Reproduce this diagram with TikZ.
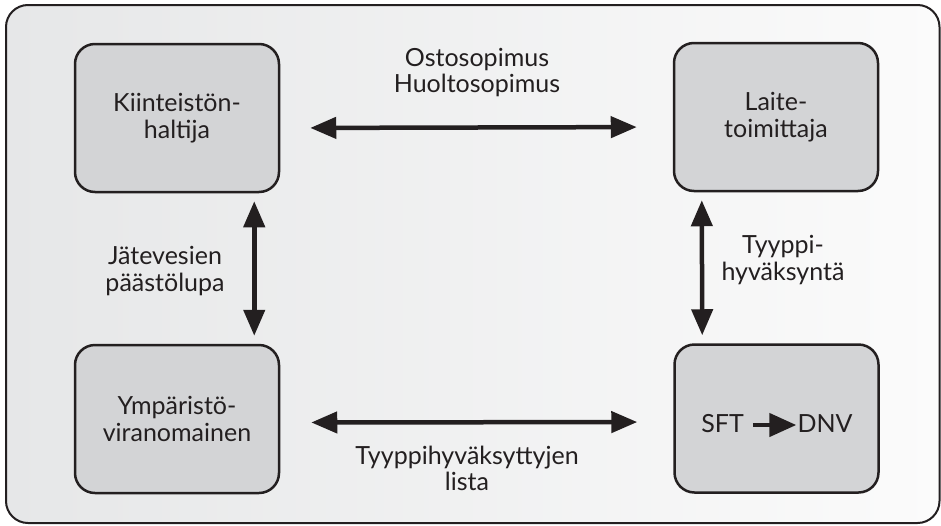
\documentclass[tikz,border=0pt]{standalone}
\usepackage{fontspec}
\setmainfont{Lato}
\usetikzlibrary{arrows.meta,calc}
\definecolor{ink}{HTML}{231F20}
\definecolor{boxfill}{HTML}{D3D4D6}
\definecolor{bgleft}{HTML}{E6E7E8}
\definecolor{bgright}{HTML}{FBFBFB}
\tikzset{
  party/.style={draw=ink, line width=2.5pt, fill=boxfill, rounded corners=20pt,
    minimum width=204pt, minimum height=148pt, align=center, inner sep=0pt,
    text=ink, font=\fontsize{25}{26.5}\selectfont},
  lbl/.style={align=center, inner sep=0pt, text=ink, font=\fontsize{25}{26.5}\selectfont},
  dbl/.style={draw=ink, line width=4.5pt, {Triangle[length=26pt,width=21pt]}-{Triangle[length=26pt,width=21pt]}},
  small/.style={draw=ink, line width=4.5pt, -{Triangle[length=27pt,width=23pt]}}
}
\begin{document}
\begin{tikzpicture}[x=1pt,y=-1pt]
\useasboundingbox (0,0) rectangle (941,525);
\fill[white] (0,0) rectangle (941,525);
\shade[left color=bgleft, right color=bgright, rounded corners=22pt] (6,5) rectangle (939.5,523);
\draw[ink, line width=2pt, rounded corners=22pt] (6,5) rectangle (939.5,523);

\node[party] (B1) at (177,118) {Kiinteistön-\\haltija};
\node[party] (B2) at (776,117) {Laite-\\toimittaja};
\node[party] (B3) at (177,419) {Ympäristö-\\viranomainen};
\node[party] (B4) at (776.5,418.5) {};

\node[lbl, anchor=base] (sft) at (722.5,432) {SFT};
\node[lbl, anchor=base] (dnv) at (825,432) {DNV};
\draw[small, shorten <=9pt, shorten >=1pt] ([yshift=7pt]sft.base east) -- ([yshift=7pt]dnv.base west);

\draw[dbl, shorten <=30pt, shorten >=36pt] ([yshift=-10pt]B1.east) -- ([yshift=-10pt]B2.west);
\draw[dbl, shorten <=31pt, shorten >=36pt] ([yshift=-3.5pt]B3.east) -- ([yshift=-3.5pt]B4.west);
\draw[dbl, shorten <=8pt, shorten >=8pt] ([xshift=-26pt]B1.south east) -- ([xshift=-26pt]B3.north east);
\draw[dbl, shorten <=8pt, shorten >=8pt] ([xshift=29pt]B2.south west) -- ([xshift=29pt]B4.north west);

\node[lbl] (l1) at (477,72.5) {Ostosopimus\\Huoltosopimus};
\node[lbl] (l2) at (165,271) {Jätevesien\\päästölupa};
\node[lbl] (l3) at (783,260) {Tyyppi-\\hyväksyntä};
\node[lbl] (l4) at (467,468.5) {Tyyppihyväksyttyjen\\lista};
\end{tikzpicture}
\end{document}
